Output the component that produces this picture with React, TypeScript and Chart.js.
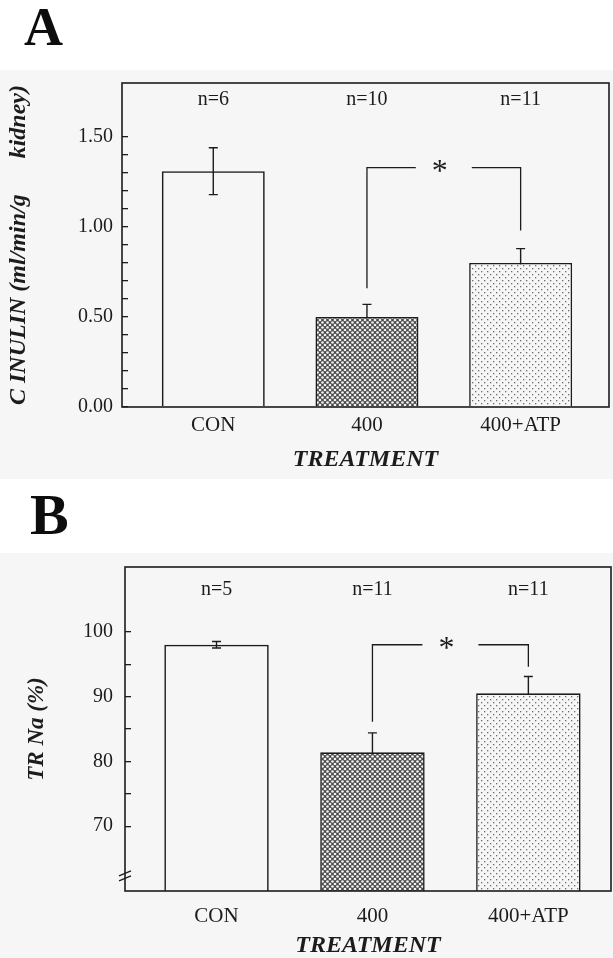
import React, { useEffect, useRef } from 'react';
import { Chart, registerables } from 'chart.js';

Chart.register(...registerables);

// ---------- data ----------
const CATEGORIES = ['CON', '400', '400+ATP'];

const A_VALUES = [1.31, 0.5, 0.8];
const A_SEM = [0.13, 0.07, 0.08];
const A_N = ['n=6', 'n=10', 'n=11'];
const A_TICK_LABELS = ['0.00', '0.50', '1.00', '1.50'];
const A_BRACKET = [0.66, 1.33, 0.98]; // left leg end, bracket level, right leg end

const B_VALUES = [98.0, 81.4, 90.5];
const B_SEM = [0.5, 3.0, 2.6];
const B_N = ['n=5', 'n=11', 'n=11'];
const B_TICK_LABELS = ['70', '80', '90', '100'];
const B_BRACKET = [86.1, 98.0, 94.6];

const SERIF = "'Liberation Serif', 'Times New Roman', serif";
const INK = '#1c1c1c';
const PAPER = '#f6f6f6';

function makePattern(kind: 'hatch' | 'dots'): CanvasPattern | string {
  const c = document.createElement('canvas');
  const g = c.getContext('2d');
  if (!g) return '#999';
  if (kind === 'hatch') {
    c.width = 5;
    c.height = 5;
    g.fillStyle = '#4a4a4a';
    g.fillRect(0, 0, 5, 5);
    g.fillStyle = '#f2f2f2';
    [[2.5, 2.5], [0, 0], [5, 0], [0, 5], [5, 5]].forEach(([x, y]) => {
      g.beginPath();
      g.arc(x, y, 1.35, 0, Math.PI * 2);
      g.fill();
    });
  } else {
    c.width = 6;
    c.height = 6;
    g.fillStyle = PAPER;
    g.fillRect(0, 0, 6, 6);
    g.fillStyle = '#6c6c6c';
    g.fillRect(1, 1, 1.3, 1.3);
    g.fillRect(4, 4, 1.3, 1.3);
  }
  return g.createPattern(c, 'repeat') || '#999';
}

type Panel = {
  values: number[];
  sem: number[];
  nLabels: string[];
  tickLabels: string[];
  bracket: number[];
  yMin: number;
  yMax: number;
  yStep: number;
  yTickMin: number;
  yTickMax: number;
  breakAt?: number;
  yTitle: string;
  yTitlePad: number;
  yTitleSize: number;
  xMin: number;
  xMax: number;
  padTop: number;
  padRight: number;
  padBottom: number;
  yAxisWidth: number;
  xAxisHeight: number;
  xTickPad: number;
  yTickPad: number;
  xTitlePad: number;
  nOffset: number;
  paperTop: number;
};

function buildChart(canvas: HTMLCanvasElement, p: Panel) {
  const hatch = makePattern('hatch');
  const dots = makePattern('dots');

  const annot = {
    id: 'annot',
    beforeDraw(chart: any) {
      const { ctx, width, height } = chart;
      ctx.save();
      ctx.fillStyle = PAPER;
      ctx.fillRect(0, p.paperTop, width, height - p.paperTop);
      ctx.restore();
    },
    beforeDatasetsDraw(chart: any) {
      const { ctx } = chart;
      const xs = chart.scales.x;
      const ys = chart.scales.y;
      ctx.save();
      ctx.strokeStyle = INK;
      ctx.lineWidth = 1.4;
      p.values.forEach((v, i) => {
        const x = xs.getPixelForValue(i);
        const yt = ys.getPixelForValue(v + p.sem[i]);
        const yb = ys.getPixelForValue(v - p.sem[i]);
        ctx.beginPath();
        ctx.moveTo(x, yt);
        ctx.lineTo(x, yb);
        ctx.moveTo(x - 4.5, yt);
        ctx.lineTo(x + 4.5, yt);
        ctx.moveTo(x - 4.5, yb);
        ctx.lineTo(x + 4.5, yb);
        ctx.stroke();
      });
      ctx.restore();
    },
    afterDraw(chart: any) {
      const { ctx, chartArea } = chart;
      const xs = chart.scales.x;
      const ys = chart.scales.y;
      ctx.save();
      // frame
      ctx.strokeStyle = INK;
      ctx.lineWidth = 1.6;
      ctx.strokeRect(chartArea.left, chartArea.top, chartArea.right - chartArea.left, chartArea.bottom - chartArea.top);
      // n labels
      ctx.fillStyle = INK;
      ctx.font = `20px ${SERIF}`;
      ctx.textAlign = 'center';
      ctx.textBaseline = 'middle';
      p.nLabels.forEach((t, i) => {
        ctx.fillText(t, xs.getPixelForValue(i), chartArea.top + p.nOffset);
      });
      // significance bracket
      const [leftEnd, level, rightEnd] = p.bracket;
      const lx = xs.getPixelForValue(1);
      const rx = xs.getPixelForValue(2);
      const mid = (lx + rx) / 2;
      const ly = ys.getPixelForValue(level);
      ctx.lineWidth = 1.3;
      ctx.beginPath();
      ctx.moveTo(lx, ys.getPixelForValue(leftEnd));
      ctx.lineTo(lx, ly);
      ctx.lineTo(mid - 28, ly);
      ctx.moveTo(mid + 28, ly);
      ctx.lineTo(rx, ly);
      ctx.lineTo(rx, ys.getPixelForValue(rightEnd));
      ctx.stroke();
      ctx.font = `32px ${SERIF}`;
      ctx.textBaseline = 'alphabetic';
      ctx.fillText('*', mid - 4, ly + 13);
      // axis break
      if (p.breakAt !== undefined) {
        const by = ys.getPixelForValue(p.breakAt);
        const x0 = chartArea.left;
        ctx.lineWidth = 1.3;
        ctx.beginPath();
        ctx.moveTo(x0 - 6, by + 1);
        ctx.lineTo(x0 + 6, by - 4);
        ctx.moveTo(x0 - 6, by + 6);
        ctx.lineTo(x0 + 6, by + 1);
        ctx.stroke();
      }
      ctx.restore();
    },
  };

  return new Chart(canvas, {
    type: 'bar',
    data: {
      datasets: [
        {
          data: p.values.map((v, i) => ({ x: i, y: v })),
          backgroundColor: ['rgba(0,0,0,0)', hatch, dots] as any,
          borderColor: INK,
          borderWidth: 1.6,
          barPercentage: 0.67,
          categoryPercentage: 1,
        },
      ],
    },
    options: {
      responsive: false,
      maintainAspectRatio: false,
      animation: false,
      layout: { padding: { left: 0, right: p.padRight, top: p.padTop, bottom: p.padBottom } },
      plugins: { legend: { display: false }, tooltip: { enabled: false } },
      scales: {
        x: {
          type: 'linear',
          position: 'bottom',
          min: p.xMin,
          max: p.xMax,
          offset: false,
          grid: { display: false, drawTicks: false, offset: false },
          border: { display: false },
          afterBuildTicks: (s: any) => {
            s.ticks = CATEGORIES.map((_, i) => ({ value: i }));
          },
          afterFit: (s: any) => {
            s.height = p.xAxisHeight;
          },
          ticks: {
            autoSkip: false,
            maxRotation: 0,
            padding: p.xTickPad,
            color: INK,
            font: { family: SERIF, size: 21 },
            callback: (v: any) => CATEGORIES[Math.round(Number(v))] ?? '',
          },
          title: {
            display: true,
            text: 'TREATMENT',
            color: INK,
            font: { family: SERIF, size: 24, style: 'italic', weight: 'bold' },
            padding: { top: 0, bottom: p.xTitlePad },
          },
        },
        y: {
          type: 'linear',
          min: p.yMin,
          max: p.yMax,
          grid: { drawOnChartArea: false, drawTicks: true, tickLength: -6, color: INK, lineWidth: 1.3 },
          border: { display: false },
          afterBuildTicks: (s: any) => {
            s.ticks = s.ticks.filter((t: any) => t.value >= p.yTickMin - 1e-9 && t.value <= p.yTickMax + 1e-9);
          },
          afterFit: (s: any) => {
            s.width = p.yAxisWidth;
          },
          ticks: {
            stepSize: p.yStep,
            autoSkip: false,
            padding: p.yTickPad,
            color: INK,
            font: { family: SERIF, size: 20 },
            callback: (v: any) => {
              const n = Number(v);
              const lab = p.tickLabels.find((t) => Math.abs(parseFloat(t) - n) < 1e-6);
              return lab ?? '';
            },
          },
          title: {
            display: true,
            text: p.yTitle,
            color: INK,
            font: { family: SERIF, size: p.yTitleSize, style: 'italic', weight: 'bold' },
            padding: { top: p.yTitlePad, bottom: 0 },
          },
        },
      },
    },
    plugins: [annot],
  } as any);
}

const PANEL_A: Panel = {
  values: A_VALUES,
  sem: A_SEM,
  nLabels: A_N,
  tickLabels: A_TICK_LABELS,
  bracket: A_BRACKET,
  yMin: 0,
  yMax: 1.8,
  yStep: 0.1,
  yTickMin: 0,
  yTickMax: 1.5,
  yTitle: 'C INULIN (ml/min/g      kidney)',
  yTitlePad: 4,
  yTitleSize: 24,
  xMin: -0.594,
  xMax: 2.575,
  padTop: 83,
  padRight: 4,
  padBottom: 0,
  yAxisWidth: 122,
  xAxisHeight: 72,
  xTickPad: 6,
  yTickPad: 15,
  xTitlePad: 5,
  nOffset: 17,
  paperTop: 70,
};

const PANEL_B: Panel = {
  values: B_VALUES,
  sem: B_SEM,
  nLabels: B_N,
  tickLabels: B_TICK_LABELS,
  bracket: B_BRACKET,
  yMin: 60,
  yMax: 110,
  yStep: 5,
  yTickMin: 70,
  yTickMax: 100,
  breakAt: 62.5,
  yTitle: 'TR Na (%)',
  yTitlePad: 23,
  yTitleSize: 23,
  xMin: -0.587,
  xMax: 2.53,
  padTop: 88,
  padRight: 2,
  padBottom: 0,
  yAxisWidth: 125,
  xAxisHeight: 67,
  xTickPad: 13,
  yTickPad: 18,
  xTitlePad: -2,
  nOffset: 23,
  paperTop: 74,
};

function PanelChart({ panel, top }: { panel: Panel; top: number }) {
  const ref = useRef<HTMLCanvasElement | null>(null);
  useEffect(() => {
    if (!ref.current) return;
    const ch = buildChart(ref.current, panel);
    return () => ch.destroy();
  }, [panel]);
  return (
    <canvas
      ref={ref}
      width={613}
      height={479}
      style={{ position: 'absolute', left: 0, top, width: 613, height: 479 }}
    />
  );
}

export default function App() {
  return (
    <div style={{ position: 'absolute', left: 0, top: 0, width: 613, height: 958, background: '#ffffff', overflow: 'hidden' }}>
      <PanelChart panel={PANEL_A} top={0} />
      <PanelChart panel={PANEL_B} top={479} />
      <div
        style={{ position: 'absolute', left: 24, top: 0, fontFamily: SERIF, fontWeight: 'bold', fontSize: 54, lineHeight: '54px', color: '#0d0d0d' }}
      >
        A
      </div>
      <div
        style={{ position: 'absolute', left: 30, top: 486, fontFamily: SERIF, fontWeight: 'bold', fontSize: 58, lineHeight: '58px', color: '#0d0d0d' }}
      >
        B
      </div>
    </div>
  );
}
